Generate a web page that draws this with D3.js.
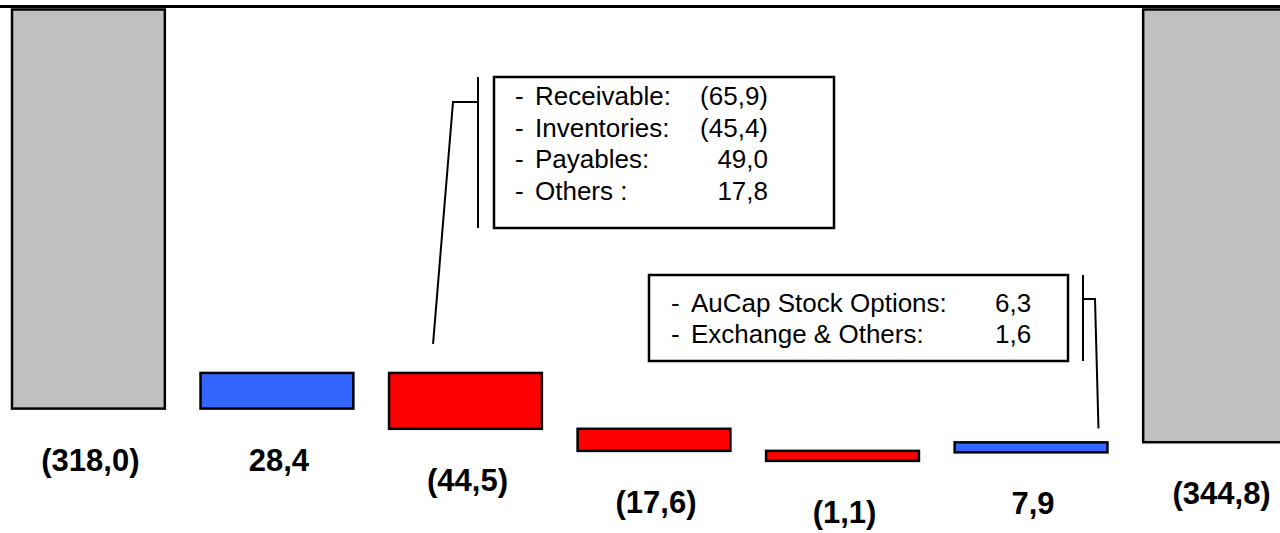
<!DOCTYPE html>
<html>
<head>
<meta charset="utf-8">
<script src="https://cdn.jsdelivr.net/npm/d3@7"></script>
<style>
  html, body { margin: 0; padding: 0; background: #fff; }
  svg { display: block; font-family: "Liberation Sans", Arial, sans-serif; }
</style>
</head>
<body>
<svg id="chart" width="1280" height="533"></svg>
<script>
// Net debt bridge (values in millions, negative = debt)
const steps = ["start", "s1", "s2", "s3", "s4", "s5", "end"];
const stepValues = [-318.0, 28.4, -44.5, -17.6, -1.1, 7.9, -344.8];
const stepKinds = ["total", "delta", "delta", "delta", "delta", "delta", "total"];

// Breakdown of the working capital step
const wcItems = ["Receivable:", "Inventories:", "Payables:", "Others :"];
const wcValues = [-65.9, -45.4, 49.0, 17.8];

// Breakdown of the last step
const otherItems = ["AuCap Stock Options:", "Exchange & Others:"];
const otherValues = [6.3, 1.6];

const colors = { total: "#c0c0c0", up: "#3366ff", down: "#ff0000" };
const MIN_BAR = 10; // keep very small steps visible

const svg = d3.select("#chart");
const W = 1280;

// number format with comma decimal, negatives in parentheses
const f1 = d3.format(".1f");
const fmt = v => {
  const s = f1(Math.abs(v)).replace(".", ",");
  return v < 0 ? "(" + s + ")" : s;
};

const x = d3.scaleBand()
  .domain(steps)
  .range([12, 1296])
  .paddingInner(0.1894)
  .paddingOuter(0);

const y = d3.scaleLinear()
  .domain([0, -360])
  .range([9.5, 9.5 + 1.255 * 360]);

// build waterfall segments
let running = 0;
const bars = steps.map((k, i) => {
  const v = stepValues[i];
  let a, b, fill;
  if (stepKinds[i] === "total") {
    a = 0; b = v; fill = colors.total; running = v;
  } else {
    a = running; b = running + v; running = b;
    fill = v >= 0 ? colors.up : colors.down;
  }
  const top = y(Math.max(a, b));
  const bottom = Math.max(y(Math.min(a, b)), top + MIN_BAR);
  return { key: k, value: v, top, bottom, fill };
});

// zero line along the top
svg.append("line")
  .attr("x1", 0).attr("x2", W)
  .attr("y1", y(0) - 3).attr("y2", y(0) - 3)
  .attr("stroke", "#000").attr("stroke-width", 3);

svg.append("g").selectAll("rect")
  .data(bars)
  .join("rect")
  .attr("x", d => x(d.key))
  .attr("y", d => d.top)
  .attr("width", x.bandwidth())
  .attr("height", d => d.bottom - d.top)
  .attr("fill", d => d.fill)
  .attr("stroke", "#000")
  .attr("stroke-width", 2.5);

svg.append("g").selectAll("text")
  .data(bars)
  .join("text")
  .attr("x", d => x(d.key) + x.bandwidth() / 2 + 2)
  .attr("y", d => d.bottom + 62)
  .attr("text-anchor", "middle")
  .attr("font-size", 31)
  .attr("font-weight", "bold")
  .attr("fill", "#000")
  .text(d => fmt(d.value));

// callout boxes
function callout(opts) {
  const g = svg.append("g");
  g.append("rect")
    .attr("x", opts.x).attr("y", opts.y)
    .attr("width", opts.w).attr("height", opts.h)
    .attr("fill", "#fff").attr("stroke", "#000").attr("stroke-width", 2.5);
  opts.items.forEach((t, i) => {
    const by = opts.baseline + i * opts.lineGap;
    g.append("text").attr("x", opts.dashX).attr("y", by)
      .attr("font-size", 26).text("-");
    g.append("text").attr("x", opts.labelX).attr("y", by)
      .attr("font-size", 26).text(t);
    g.append("text").attr("x", opts.valueX).attr("y", by)
      .attr("text-anchor", opts.valueAnchor)
      .attr("font-size", 26).text(fmt(opts.values[i]));
  });
  // bracket beside the box
  g.append("line")
    .attr("x1", opts.bracketX).attr("x2", opts.bracketX)
    .attr("y1", opts.y).attr("y2", opts.y + opts.h)
    .attr("stroke", "#000").attr("stroke-width", 2);
  // leader line down to its bar
  g.append("path")
    .attr("d", d3.line()(opts.leader))
    .attr("fill", "none").attr("stroke", "#000").attr("stroke-width", 2);
}

const wcBar = bars[2];
callout({
  x: 494, y: 77, w: 340, h: 151,
  items: wcItems, values: wcValues,
  dashX: 515, labelX: 535, valueX: 768, valueAnchor: "end",
  baseline: 105, lineGap: 31.7,
  bracketX: 478,
  leader: [[x(wcBar.key) + 44, wcBar.top - 29], [453, 102], [478, 102]]
});

const lastBar = bars[5];
callout({
  x: 649, y: 275, w: 419, h: 86,
  items: otherItems, values: otherValues,
  dashX: 671, labelX: 691, valueX: 995, valueAnchor: "start",
  baseline: 312, lineGap: 31,
  bracketX: 1083,
  leader: [[x(lastBar.key) + x.bandwidth() - 9, lastBar.top - 14], [1095, 299], [1083, 299]]
});
</script>
</body>
</html>
